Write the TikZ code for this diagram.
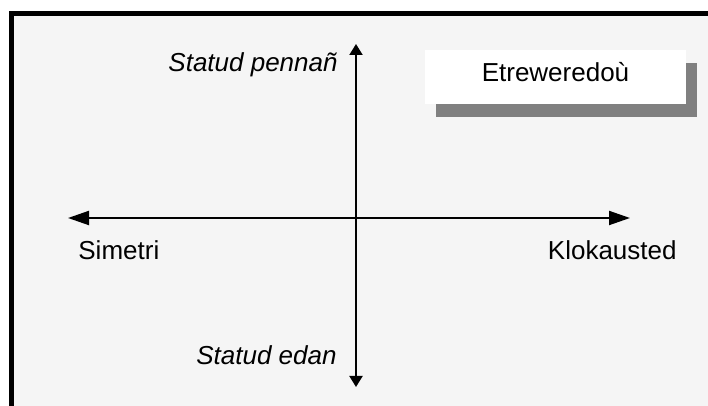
\documentclass[tikz,border=0pt]{standalone}
\usepackage{fontspec}
\setmainfont{Liberation Sans}
\usetikzlibrary{arrows.meta,shadows}
\definecolor{paneback}{HTML}{F5F5F5}
\definecolor{shadegray}{HTML}{808080}
\tikzset{
  axisline/.style={line width=1pt},
  hlabel/.style={inner sep=0pt, font=\fontsize{13}{15}\selectfont},
  vlabel/.style={inner sep=0pt, font=\fontsize{13}{15}\selectfont\itshape},
  legendbox/.style={fill=white, inner sep=0pt, minimum width=130.5pt, minimum height=27pt,
    text height=7pt, text depth=2pt, font=\fontsize{13}{15}\selectfont,
    drop shadow={shadow xshift=5.5pt, shadow yshift=-6.75pt, fill=shadegray, opacity=1}}
}
\begin{document}
\begin{tikzpicture}[x=0.5pt, y=-0.5pt]
            \useasboundingbox (0,0) rectangle (708,406);
            \fill[paneback] (9,11) rectangle (708,406);
            \draw[line width=2.5pt] (11.5,406) -- (11.5,13.5) -- (708,13.5);
            % axes
            \coordinate (top) at (356,44);
            \coordinate (bottom) at (356,387);
            \coordinate (left) at (68,218);
            \coordinate (right) at (630,218);
            \draw[axisline, {Triangle[length=5.5pt,width=6.5pt]}-{Triangle[length=5.5pt,width=6.5pt]}] (bottom) -- (top);
            \draw[axisline, {Triangle[length=10.5pt,width=7pt]}-{Triangle[length=10.5pt,width=7pt]}] (left) -- (right);
            \node[vlabel, anchor=base east] (upper) at (338,72) {Statud pennañ};
            \node[vlabel, anchor=base east] (lower) at (337,365) {Statud edan};
            \node[hlabel, anchor=base west] (sym) at (78,260) {Simetri};
            \node[hlabel, anchor=base east] (clock) at (677,260) {Klokausted};
            \node[legendbox] (legend) at (555.5,77) {Etreweredoù};
\end{tikzpicture}
\end{document}
